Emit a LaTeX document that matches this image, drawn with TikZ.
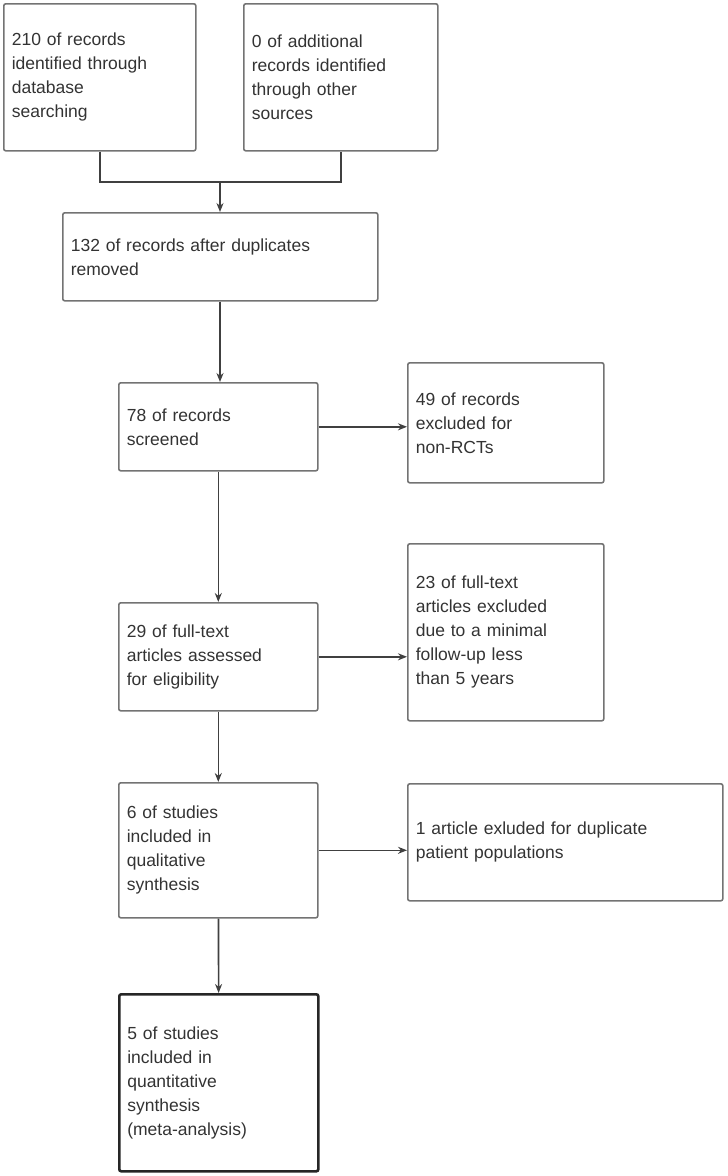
\documentclass[tikz,border=0pt]{standalone}
\usepackage{fontspec}
\setmainfont{Liberation Sans}
\usetikzlibrary{arrows.meta}
\begin{document}
\begin{tikzpicture}[x=1pt,y=-1pt,
  flowbox/.style={draw=black!55, line width=1.6pt, rounded corners=2pt, anchor=north west,
    align=left, inner xsep=8pt, font=\fontsize{17.5}{24}\selectfont, text=black!80},
  flowarrow/.style={draw=black!75, line width=1.6pt, -{Stealth[length=9pt,width=7pt]}},
  flowline/.style={draw=black!75, line width=1.6pt}]
\useasboundingbox (0,0) rectangle (728,1176);
% boxes: \bx{name}{x}{y}{w}{h}
\def\bx#1#2#3#4#5{\node[flowbox, minimum width=#4pt, minimum height=#5pt, text width=#4pt-16pt] (#1) at (#2,#3)}
\bx{ident}{3}{3}{192}{147} {210 of records\\identified through\\database\\searching};
\bx{other}{243}{3}{194}{147} {0 of additional\\records identified\\through other\\sources};
\bx{dupl}{62}{212}{315}{88} {132 of records after duplicates\\removed};
\bx{screen}{118}{382}{199}{88} {78 of records\\screened};
\bx{excl}{407}{362}{196}{120} {49 of records\\excluded for\\non-RCTs};
\bx{full}{118}{602}{199}{108} {29 of full-text\\articles assessed\\for eligibility};
\bx{fullex}{407}{543}{196}{177} {23 of full-text\\articles excluded\\due to a minimal\\follow-up less\\than 5 years};
\bx{qual}{118}{782}{199}{135} {6 of studies\\included in\\qualitative\\synthesis};
\bx{dupex}{407}{783}{315}{117} {1 article exluded for duplicate\\patient populations};
\node[flowbox, line width=2.6pt, draw=black!85, minimum width=199pt, minimum height=177pt, text width=183pt] (quant) at (118,993)
  {5 of studies\\included in\\quantitative\\synthesis\\(meta-analysis)};
% connectors
\coordinate (join) at (220,182);
\draw[flowline] (ident.south) |- (join) -| (other.south);
\draw[flowarrow] (join) -- (join |- dupl.north);
\draw[flowarrow] (dupl.south -| join) -- (join |- screen.north);
\draw[flowarrow] (screen) -- (full);
\draw[flowarrow] (full) -- (qual);
\draw[flowarrow] (qual) -- (quant);
\draw[flowarrow] (screen.east) -- (screen.east -| excl.west);
\draw[flowarrow] (full.east) -- (full.east -| fullex.west);
\draw[flowarrow] (qual.east) -- (qual.east -| dupex.west);
\end{tikzpicture}
\end{document}
